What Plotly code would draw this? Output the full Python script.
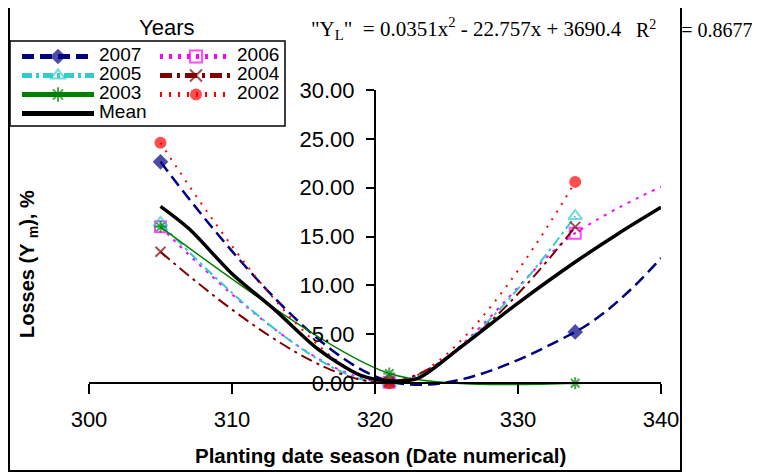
import plotly.graph_objects as go

# ---- data ----
x_obs = [305, 321, 334]
x_ext = [305, 321, 334, 340]
y_2007 = [22.65, 0.2, 5.25, 12.8]
y_2006 = [16.0, 0.1, 15.35, 20.1]
y_2005 = [16.4, 0.0, 17.1]
y_2004 = [13.45, 0.1, 16.0]
y_2003 = [16.0, 1.0, 0.0]
y_2002 = [24.6, 0.0, 20.6]
mean_x = [305, 307, 310, 313, 316, 319, 321, 323, 326, 330, 334, 337, 340]
mean_y = [18.1, 15.8, 11.2, 7.5, 3.5, 0.8, 0.25, 0.5, 3.7, 8.2, 12.4, 15.3, 18.0]
x_ticks = [300, 310, 320, 330, 340]
y_ticks = [0, 5, 10, 15, 20, 25, 30]

FONT = "Liberation Sans, Arial, sans-serif"
SERIF = "Liberation Serif, Times New Roman, serif"

# page body has an 8px margin; layout positions below are given in screen pixels
OFF = 8
W, H = 760 - OFF, 474 - OFF
L, T = 89 - OFF, 90 - OFF          # plot area left / top
PR, PB = 661 - OFF, 393 - OFF      # plot area right / bottom
R, B = W - PR, H - PB
PW, PH = PR - L, PB - T
px = lambda p: (p - OFF - L) / PW
py = lambda p: (PB - (p - OFF)) / PH


def nm(s):
    return '<span style="font-size:19px">%s</span>' % s


series = [
    dict(name="2007", x=x_ext, y=y_2007, color="#000080", dash="12px,6px", width=2.5,
         symbol="diamond", size=12, legend="legend", smooth=1),
    dict(name="2006", x=x_ext, y=y_2006, color="#FF00FF", dash="3px,6px", width=2,
         symbol="square-open", size=11, legend="legend2", smooth=1),
    dict(name="2005", x=x_obs, y=y_2005, color="#33CCCC", dash="10px,4px,3px,4px", width=2,
         symbol="triangle-up-open", size=12, legend="legend", smooth=1),
    dict(name="2004", x=x_obs, y=y_2004, color="#800000", dash="12px,5px,3px,5px", width=2,
         symbol="x-thin-open", size=10, legend="legend2", smooth=1),
    dict(name="2003", x=x_obs, y=y_2003, color="#008000", dash="solid", width=1.5,
         symbol="asterisk-open", size=10, legend="legend", smooth=0.75),
    dict(name="2002", x=x_obs, y=y_2002, color="#FF0000", dash="2px,7px", width=2,
         symbol="circle", size=12, legend="legend2", smooth=1),
]

fig = go.Figure()
for s in series:
    sizes = [s["size"] if xv in x_obs else 0 for xv in s["x"]]
    fig.add_trace(go.Scatter(
        x=s["x"], y=s["y"], name=nm(s["name"]), mode="lines+markers",
        line=dict(color=s["color"], dash=s["dash"], width=s["width"], shape="spline",
                  smoothing=s["smooth"]),
        marker=dict(symbol=s["symbol"], size=sizes, color=s["color"],
                    line=dict(color=s["color"], width=2 if "open" in s["symbol"] else 0)),
        legend=s["legend"], cliponaxis=False,
    ))

fig.add_trace(go.Scatter(
    x=mean_x, y=mean_y, name=nm("Mean"), mode="lines",
    line=dict(color="black", width=3.5, shape="spline", smoothing=0.8),
    legend="legend",
))

legend_common = dict(xanchor="left", yanchor="top", bgcolor="rgba(0,0,0,0)", borderwidth=0,
                     font=dict(size=12, family=FONT, color="black"), itemwidth=72,
                     itemsizing="constant", tracegroupgap=0, orientation="v")

fig.update_layout(
    width=W, height=H,
    margin=dict(l=L, r=R, t=T, b=B, pad=0, autoexpand=False),
    paper_bgcolor="white", plot_bgcolor="white",
    font=dict(family=FONT, color="black"),
    legend=dict(x=px(17), y=py(42), **legend_common),
    legend2=dict(x=px(155), y=py(42), **legend_common),
    xaxis=dict(range=[300, 340], domain=[0, 1], anchor="free", position=1 / 31,
               showline=True, linecolor="black", linewidth=2,
               ticks="outside", ticklen=10, tickwidth=2, tickcolor="black",
               tickvals=x_ticks, showgrid=False, zeroline=False,
               tickfont=dict(size=22, family=FONT, color="black"), ticklabelstandoff=6),
    yaxis=dict(range=[-1, 30], domain=[0, 1], anchor="free", position=0.5,
               showline=True, linecolor="black", linewidth=2,
               ticks="outside", ticklen=8, tickwidth=2, tickcolor="black",
               tickvals=y_ticks, tickformat=".2f", showgrid=False, zeroline=False,
               tickfont=dict(size=22, family=FONT, color="black"), ticklabelstandoff=7),
    showlegend=True,
)

fig.add_annotation(text="Years", x=px(166), y=py(28), xref="paper", yref="paper",
                   showarrow=False, xanchor="center", yanchor="middle",
                   font=dict(size=22, family=FONT, color="black"))
fig.add_annotation(text='"Y<sub>L</sub>"\u00a0\u00a0= 0.0351x<sup>2</sup> - 22.757x + 3690.4',
                   x=px(309), y=py(29), xref="paper", yref="paper", showarrow=False,
                   xanchor="left", yanchor="middle", font=dict(size=21, family=SERIF, color="black"))
fig.add_annotation(text='R<sup>2</sup>\u00a0\u00a0\u00a0\u00a0\u00a0= 0.8677',
                   x=px(634), y=py(29), xref="paper", yref="paper", showarrow=False,
                   xanchor="left", yanchor="middle", font=dict(size=20, family=SERIF, color="black"))
fig.add_annotation(text="<b>Losses (Y <sub>m</sub>), %</b>", x=px(28), y=py(264),
                   xref="paper", yref="paper", showarrow=False, textangle=-90,
                   xanchor="center", yanchor="middle", font=dict(size=20, family=FONT, color="black"))
fig.add_annotation(text="<b>Planting date season (Date numerical)</b>", x=px(380), y=py(455),
                   xref="paper", yref="paper", showarrow=False,
                   xanchor="center", yanchor="middle", font=dict(size=20.5, family=FONT, color="black"))

# chart frame and legend box
fig.add_shape(type="rect", xref="paper", yref="paper", x0=px(9), x1=px(681), y0=py(471), y1=py(7),
              line=dict(color="black", width=2), layer="below")
fig.add_shape(type="rect", xref="paper", yref="paper", x0=px(10), x1=px(285), y0=py(126), y1=py(41),
              line=dict(color="black", width=1.5), layer="below")

fig.write_html("out.html")
